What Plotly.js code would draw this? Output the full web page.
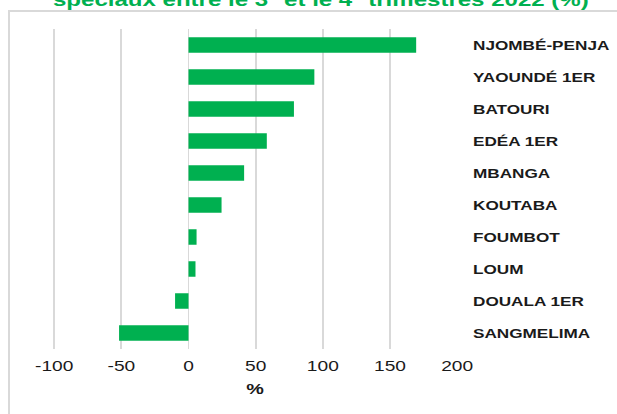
<!DOCTYPE html>
<html>
<head>
<meta charset="utf-8">
<script src="https://cdn.plot.ly/plotly-3.0.1.min.js"></script>
<style>
  html, body { margin: 0; padding: 0; background: #ffffff; overflow: hidden; width: 617px; height: 414px; }
  #frame { position: absolute; left: 8px; top: 10px; width: 700px; height: 500px;
           border-left: 2px solid #d9d9d9; border-top: 2px solid #d9d9d9; box-sizing: border-box; }
  #wrap { position: absolute; left: 0; top: 0; width: 467px; height: 414px;
          transform: scaleX(1.3212); transform-origin: 0 0; }
  #chart { width: 467px; height: 414px; }
</style>
</head>
<body>
<div id="frame"></div>
<div id="wrap"><div id="chart"></div></div>
<script>
// Data (top to bottom as shown)
const categories = ["NJOMBÉ-PENJA", "YAOUNDÉ 1ER", "BATOURI", "EDÉA 1ER", "MBANGA",
                    "KOUTABA", "FOUMBOT", "LOUM", "DOUALA 1ER", "SANGMELIMA"];
const values = [169.5, 93.7, 78.5, 58.3, 41.4, 24.6, 6.0, 5.2, -10.0, -51.7];
const xTickVals = [-100, -50, 0, 50, 100, 150, 200];
const xTickText = ["-100", "-50", "0", "50", "100", "150", "200"];
const titleText = "<b>spéciaux entre le 3<sup>e</sup> et le 4<sup>e</sup> trimestres 2022 (%)</b>";
const xTitle = "<b>%</b>";

const green = "#00b050";
const grid = "#d9d9d9";
const fontFam = "Arial, 'Liberation Sans', sans-serif";

const trace = {
  type: "bar",
  orientation: "h",
  x: values,
  y: categories,
  marker: { color: green },
  hoverinfo: "x+y"
};

const layout = {
  width: 467,
  height: 414,
  margin: { l: 40, r: 121, t: 29, b: 65 },
  paper_bgcolor: "rgba(0,0,0,0)",
  plot_bgcolor: "rgba(0,0,0,0)",
  bargap: 0.51,
  showlegend: false,
  title: {
    text: titleText,
    font: { family: fontFam, size: 18.2, color: green },
    x: 0.52, xanchor: "center", xref: "container",
    y: 1, yanchor: "middle", yref: "container"
  },
  xaxis: {
    range: [-101, 200],
    tickvals: xTickVals,
    ticktext: xTickText,
    showgrid: true,
    gridcolor: grid,
    gridwidth: 1.3,
    zeroline: true,
    zerolinecolor: grid,
    zerolinewidth: 1.3,
    showline: false,
    ticks: "",
    ticklabelstandoff: 7,
    tickfont: { family: fontFam, size: 14.5, color: "#1a1a1a" },
    title: { text: xTitle, font: { family: fontFam, size: 15, color: "#1a1a1a" }, standoff: 10 },
    fixedrange: true
  },
  yaxis: {
    type: "category",
    side: "right",
    autorange: "reversed",
    showgrid: false,
    zeroline: false,
    showline: false,
    ticks: "",
    ticklabelstandoff: 11,
    tickfont: { family: fontFam, size: 13, color: "#1a1a1a", weight: "bold" },
    fixedrange: true
  }
};

Plotly.newPlot("chart", [trace], layout, { displayModeBar: false, staticPlot: true });
</script>
</body>
</html>
